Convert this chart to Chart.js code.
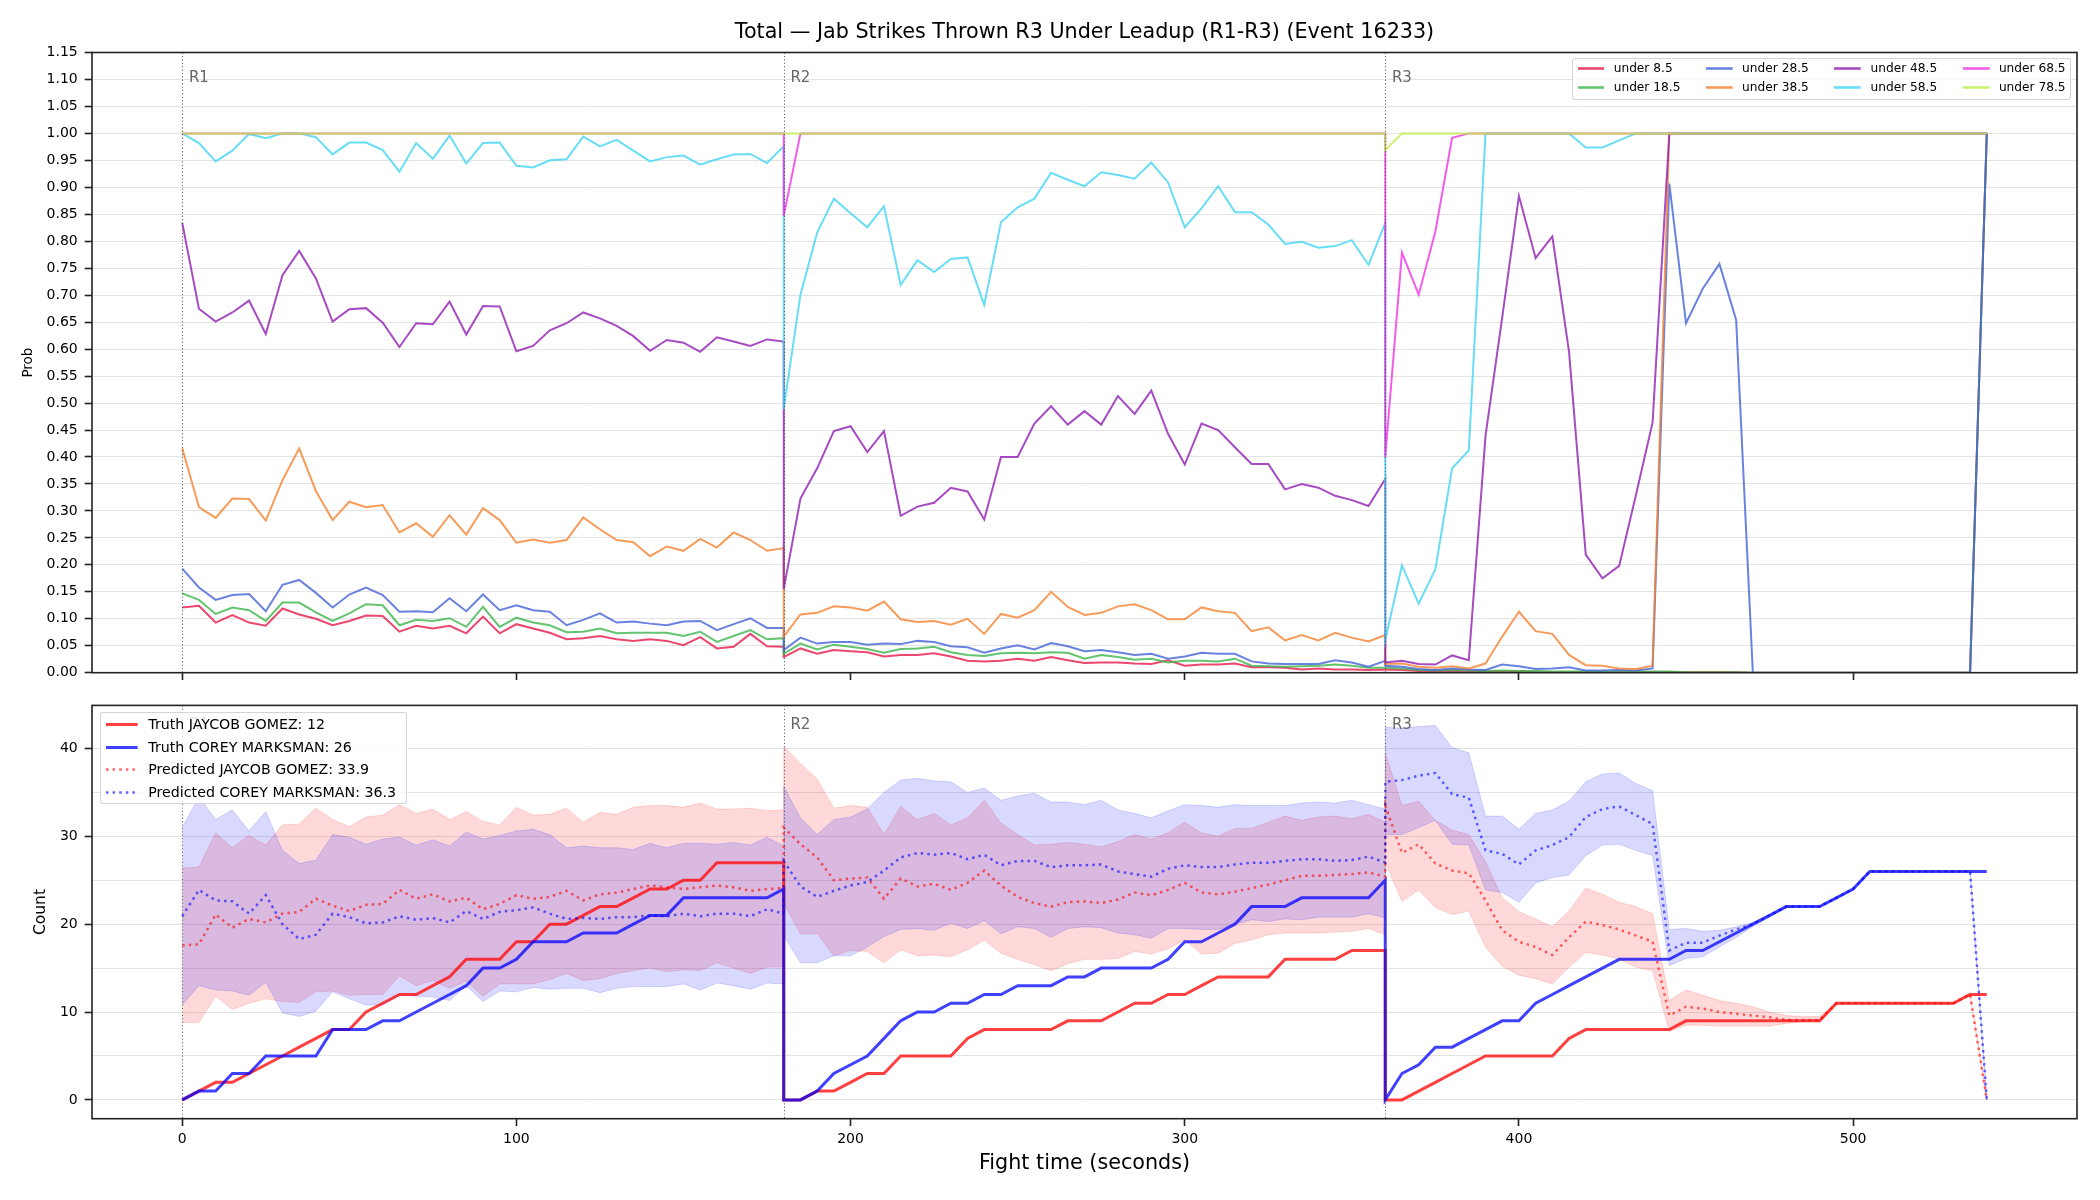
<!DOCTYPE html>
<html><head><meta charset="utf-8">
<script src="https://cdn.jsdelivr.net/npm/chart.js@4.4.1/dist/chart.umd.min.js"></script>
<style>
html,body{margin:0;padding:0;background:#fff;}
#fig{position:relative;width:2100px;height:1200px;overflow:hidden;font-family:'DejaVu Sans','Liberation Sans',sans-serif;background:#fff;}
canvas{position:absolute;left:0;}
#cTop{top:0;}
#cBot{top:690px;}
.title{position:absolute;left:584.5px;width:1000px;top:19px;text-align:center;font-size:20.7px;line-height:24px;color:#000;white-space:nowrap;}
.legend{position:absolute;box-sizing:border-box;border:1px solid rgba(204,204,204,0.85);border-radius:3px;background:rgba(255,255,255,0.8);z-index:5;}
.lg{position:absolute;white-space:nowrap;color:#000;}
.sw{position:absolute;}
</style></head>
<body><div id="fig">
<canvas id="cTop" width="2100" height="700"></canvas>
<canvas id="cBot" width="2100" height="510"></canvas>
<div class="title" id="title"></div>
<div class="legend" id="legTop" style="left:1571.7px;top:57.7px;width:499px;height:42.6px;"></div>
<div class="legend" id="legBot" style="left:100px;top:712.3px;width:306.7px;height:91.7px;"></div>
</div>
<script>
// ---------------- text ----------------
const TITLE = 'Total — Jab Strikes Thrown R3 Under Leadup (R1-R3) (Event 16233)';
const X_LABEL = 'Fight time (seconds)';
const Y_LABEL_TOP = 'Prob';
const Y_LABEL_BOTTOM = 'Count';
const ROUND_NAMES = ['R1', 'R2', 'R3'];

// ---------------- categories / ticks ----------------
const ROUND_STARTS = [0, 180, 360];
const ROUND_SECONDS = [0,5,10,15,20,25,30,35,40,45,50,55,60,65,70,75,80,85,90,95,100,105,110,115,120,125,130,135,140,145,150,155,160,165,170,175,180];
const X_TICKS = [0, 100, 200, 300, 400, 500];
const PROB_TICKS = [0,0.05,0.10,0.15,0.20,0.25,0.30,0.35,0.40,0.45,0.50,0.55,0.60,0.65,0.70,0.75,0.80,0.85,0.90,0.95,1.00,1.05,1.10,1.15];
const COUNT_TICKS = [0,5,10,15,20,25,30,35,40];
const COUNT_LABELED = [0,10,20,30,40];

// ---------------- top panel: P(under line) ----------------
const LINE_NAMES = ['under 8.5','under 18.5','under 28.5','under 38.5','under 48.5','under 58.5','under 68.5','under 78.5'];

const under_8_5 = [
 0.121,0.124,0.093,0.107,0.093,0.087,0.119,0.108,0.100,0.088,0.096,0.106,0.105,0.076,0.087,0.082,0.087,0.073,0.104,0.073,0.090,0.082,0.074,0.062,0.064,0.068,0.062,0.059,0.062,0.059,0.051,0.066,0.045,0.048,0.072,0.049,0.048,
 0.029,0.045,0.035,0.042,0.040,0.038,0.030,0.033,0.033,0.036,0.030,0.022,0.021,0.022,0.026,0.022,0.029,0.023,0.018,0.019,0.019,0.017,0.016,0.023,0.013,0.015,0.015,0.017,0.010,0.010,0.009,0.006,0.008,0.006,0.006,0.005,0.006,
 0.006,0.005,0.003,0.002,0.003,0.002,0.002,0.002,0.002,0.001, 0.001,0.001,0.001,0.001,0.001,0.001,0.001,0.001,0.001,0.001, 0.001,0.001, 0,0,0,0,0,0,0,0,0,0, 0,0,0,0, 1
];
const under_18_5 = [
 0.147,0.135,0.109,0.121,0.116,0.096,0.130,0.130,0.112,0.096,0.110,0.127,0.125,0.088,0.098,0.096,0.101,0.085,0.122,0.085,0.102,0.093,0.088,0.075,0.076,0.082,0.073,0.074,0.074,0.074,0.068,0.076,0.057,0.068,0.079,0.062,0.064,
 0.035,0.054,0.043,0.052,0.048,0.044,0.037,0.044,0.045,0.048,0.038,0.033,0.031,0.036,0.037,0.036,0.038,0.037,0.026,0.033,0.029,0.024,0.026,0.019,0.022,0.022,0.021,0.026,0.013,0.012,0.011,0.012,0.013,0.015,0.013,0.009,0.009,
 0.009,0.008,0.005,0.004,0.005,0.004,0.003,0.004,0.003,0.003, 0.002,0.002,0.002,0.002,0.002,0.002,0.002,0.002,0.001,0.001, 0.001,0.001, 0,0,0,0,0,0,0,0,0,0, 0,0,0,0, 1
];
const under_28_5 = [
 0.193,0.158,0.135,0.144,0.146,0.114,0.163,0.172,0.148,0.121,0.145,0.158,0.144,0.113,0.114,0.112,0.138,0.114,0.145,0.116,0.125,0.116,0.113,0.088,0.098,0.110,0.093,0.095,0.091,0.088,0.095,0.096,0.079,0.090,0.101,0.083,0.083,
 0.042,0.065,0.054,0.057,0.057,0.052,0.054,0.053,0.059,0.057,0.049,0.047,0.037,0.045,0.051,0.043,0.055,0.049,0.040,0.042,0.038,0.033,0.035,0.026,0.030,0.037,0.035,0.035,0.021,0.017,0.016,0.016,0.016,0.023,0.019,0.011,0.022,
 0.013,0.011,0.007,0.005,0.008,0.006,0.005,0.015,0.012,0.007, 0.008,0.010,0.004,0.004,0.005,0.004,0.008, 0.907,0.648,0.712, 0.758,0.654, 0,0,0,0,0,0,0,0, 0,0,0,0,0,0, 1
];
const under_38_5 = [
 0.416,0.307,0.287,0.323,0.322,0.282,0.357,0.416,0.337,0.283,0.317,0.307,0.311,0.260,0.277,0.252,0.292,0.256,0.305,0.283,0.241,0.247,0.241,0.246,0.288,0.266,0.246,0.242,0.216,0.234,0.226,0.248,0.232,0.260,0.246,0.226,0.231,
 0.067,0.108,0.111,0.123,0.121,0.115,0.132,0.099,0.094,0.096,0.089,0.100,0.072,0.109,0.102,0.116,0.150,0.122,0.107,0.111,0.123,0.127,0.116,0.099,0.099,0.121,0.114,0.111,0.077,0.084,0.060,0.070,0.060,0.074,0.065,0.058,0.070,
 0.016,0.017,0.011,0.009,0.012,0.008,0.017,0.067,0.113,0.077, 0.072,0.033,0.014,0.013,0.008,0.007,0.013, 1,1,1, 1,1,1,1,1,1,1,1,1,1, 1,1,1,1,1,1,1
];
const under_48_5 = [
 0.834,0.675,0.651,0.668,0.690,0.628,0.737,0.782,0.731,0.651,0.674,0.676,0.649,0.604,0.648,0.646,0.688,0.627,0.680,0.679,0.596,0.606,0.635,0.648,0.668,0.657,0.643,0.624,0.597,0.617,0.612,0.595,0.622,0.614,0.606,0.618,0.614,
 0.155,0.323,0.379,0.448,0.457,0.409,0.448,0.291,0.308,0.315,0.343,0.336,0.284,0.400,0.400,0.462,0.494,0.460,0.485,0.460,0.513,0.480,0.523,0.443,0.386,0.462,0.450,0.418,0.387,0.387,0.340,0.350,0.343,0.328,0.320,0.309,0.359,
 0.019,0.022,0.016,0.015,0.032,0.023,0.439,0.659,0.884,0.769, 0.809,0.595,0.219,0.175,0.198,0.329,0.464, 1,1,1, 1,1,1,1,1,1,1,1,1,1, 1,1,1,1,1,1,1
];
const under_58_5 = [
 1.000,0.982,0.948,0.968,0.999,0.991,1.000,1.000,0.993,0.961,0.983,0.983,0.969,0.929,0.982,0.953,0.996,0.944,0.982,0.983,0.940,0.937,0.950,0.952,0.994,0.976,0.988,0.968,0.948,0.956,0.959,0.942,0.952,0.961,0.962,0.945,0.976,
 0.489,0.701,0.816,0.879,0.852,0.826,0.865,0.719,0.765,0.743,0.767,0.770,0.682,0.835,0.863,0.879,0.927,0.914,0.902,0.928,0.923,0.916,0.946,0.909,0.826,0.861,0.902,0.854,0.854,0.831,0.795,0.799,0.788,0.791,0.802,0.756,0.834,
 0.060,0.199,0.128,0.192,0.379,0.412,1,1,1,1, 1,1,0.974,0.974,0.987,1, 1,1,1,1, 1,1,1,1,1,1,1,1,1,1, 1,1,1,1,1,1,1
];
const under_68_5 = [
 1,1,1,1,1,1,1,1,1,1, 1,1,1,1,1,1,1,1,1,1, 1,1,1,1,1,1,1,1,1,1, 1,1,1,1,1,1,1,
 0.847,1,1,1,1,1,1,1,1,1, 1,1,1,1,1,1,1,1,1,1, 1,1,1,1,1,1,1,1,1,1, 1,1,1,1,1,1,1,
 0.400,0.779,0.701,0.818,0.992,1,1,1,1,1, 1,1,1,1,1,1,1,1,1,1, 1,1,1,1,1,1,1,1,1,1, 1,1,1,1,1,1,1
];
const under_78_5 = [
 1,1,1,1,1,1,1,1,1,1, 1,1,1,1,1,1,1,1,1,1, 1,1,1,1,1,1,1,1,1,1, 1,1,1,1,1,1,1,
 1,1,1,1,1,1,1,1,1,1, 1,1,1,1,1,1,1,1,1,1, 1,1,1,1,1,1,1,1,1,1, 1,1,1,1,1,1,1,
 0.969,1,1,1,1,1,1,1,1,1, 1,1,1,1,1,1,1,1,1,1, 1,1,1,1,1,1,1,1,1,1, 1,1,1,1,1,1,1
];
const LINE_VALUES = [under_8_5, under_18_5, under_28_5, under_38_5, under_48_5, under_58_5, under_68_5, under_78_5];
const LINE_COLORS = ['#e6194b','#3cb44b','#4363d8','#f58231','#911eb4','#42d4f4','#f032e6','#bfef45'];

// ---------------- bottom panel: counts ----------------
const FIGHTER_NAMES = ['JAYCOB GOMEZ', 'COREY MARKSMAN'];
const FINAL_TRUTH = [12, 26];
const FINAL_PRED = [33.9, 36.3];

const truth_gomez = [
 0,1,2,2,3,4,5,6,7,8, 8,10,11,12,12,13,14,16,16,16, 18,18,20,20,21,22,22,23,24,24, 25,25,27,27,27,27,27,
 0,0,1,1,2,3,3,5,5,5, 5,7,8,8,8,8,8,9,9,9, 10,11,11,12,12,13,14,14,14,14, 16,16,16,16,17,17,17,
 0,0,1,2,3,4,5,5,5,5, 5,7,8,8,8,8,8,8,9,9, 9,9,9,9,9,9,9,11,11,11, 11,11,11,11,11,12,12
];
const truth_marksman = [
 0,1,1,3,3,5,5,5,5,8, 8,8,9,9,10,11,12,13,15,15, 16,18,18,18,19,19,19,20,21,21, 23,23,23,23,23,23,24,
 0,0,1,3,4,5,7,9,10,10, 11,11,12,12,13,13,13,14,14,15, 15,15,15,16,18,18,19,20,22,22, 22,23,23,23,23,23,25,
 0,3,4,6,6,7,8,9,9,11, 12,13,14,15,16,16,16,16,17,17, 18,19,20,21,22,22,22,23,24,26, 26,26,26,26,26,26,26
];
const pred_gomez = [
 17.6,17.7,21.1,19.6,20.6,20.2,21.2,21.4,22.9,22.1, 21.5,22.2,22.3,23.9,22.9,23.4,22.6,23.0,21.7,22.3, 23.3,22.9,23.1,23.8,22.7,23.4,23.6,24.0,24.4,24.2, 24.0,24.2,24.4,24.2,23.8,24.0,24.1,
 31.0,29.1,27.6,25.0,25.2,25.3,22.9,25.2,24.3,24.6, 23.9,24.7,26.1,24.4,23.1,22.4,22.0,22.5,22.6,22.4, 22.8,23.6,23.3,23.9,24.7,23.6,23.4,23.7,24.1,24.5, 25.0,25.5,25.5,25.6,25.7,25.9,25.4,
 33.5,28.1,29.1,26.9,26.1,25.8,22.7,19.3,18.0,17.4, 16.5,18.5,20.3,19.9,19.4,18.7,18.0,9.6,10.6,10.4, 10.0,9.8,9.6,9.4,9.1,9.1,9.1,11,11,11, 11,11,11,11,11,12,0
];
const pred_marksman = [
 20.9,23.9,22.7,22.6,21.2,23.3,20.0,18.3,18.8,21.2, 20.8,20.1,20.2,20.9,20.5,20.7,20.2,21.5,20.6,21.4, 21.6,21.9,21.2,20.6,20.7,20.6,20.8,20.8,21.0,20.9, 21.2,20.9,21.2,21.2,20.9,21.7,21.2,
 27.2,24.3,23.1,23.8,24.4,24.8,26.1,27.6,28.1,27.9, 28.1,27.4,27.9,26.7,27.2,27.2,26.5,26.7,26.7,26.8, 26.0,25.7,25.4,26.3,26.7,26.5,26.5,26.8,27.0,27.0, 27.2,27.4,27.4,27.2,27.3,27.7,27.0,
 36.2,36.4,36.9,37.2,34.8,34.4,28.4,28.0,26.8,28.4, 29.0,29.9,32.2,33.1,33.4,32.4,31.4,17.0,17.9,17.9, 18.7,19.4,20.0,21.0,22.0,22.0,22.0,23,24,26, 26,26,26,26,26,26,0
];
const band_gomez_hi = [
 26.4,26.5,30.4,28.7,30.1,29.0,31.3,31.4,33.2,31.9, 31.1,32.2,32.4,33.6,32.6,33.1,31.9,32.8,31.7,31.3, 33.3,32.4,32.5,33.2,31.6,32.7,32.5,33.3,33.5,33.5, 33.3,33.8,33.1,33.1,33.2,32.9,33.0,
 40.2,38.3,36.5,33.2,33.5,33.3,30.2,33.4,31.9,32.6, 31.3,32.1,34.1,31.5,30.2,29.0,29.1,29.3,29.1,28.8, 29.4,30.2,29.7,30.4,31.6,30.4,30.0,30.9,30.9,31.6, 32.3,31.8,32.2,32.3,32.0,32.5,31.6,
 39.5,33.5,34.0,31.8,30.7,30.2,27.1,23.0,21.4,20.6, 19.7,21.5,24.1,23.4,22.5,22.0,21.2,11.3,12.5,11.9, 11.3,11.0,10.6,10.0,9.6,9.5,9.5,11,11,11, 11,11,11,11,11,12,0
];
const band_gomez_lo = [
 8.8,8.8,11.8,10.3,11.0,11.5,11.2,11.1,12.3,12.4, 11.9,12.0,12.0,14.1,13.0,13.6,12.7,13.5,11.8,13.2, 13.2,13.2,13.7,14.4,13.6,13.8,14.4,14.7,15.0,14.6, 14.8,14.7,15.6,15.0,14.4,15.1,15.2,
 22.3,18.9,18.9,16.4,17.0,16.9,15.6,17.1,16.4,16.5, 16.3,17.1,18.2,16.7,16.0,15.4,14.7,15.5,16.0,16.0, 16.1,16.9,16.6,17.2,18.2,16.6,16.7,17.8,18.2,18.8, 19.0,19.0,19.0,19.1,19.2,19.5,18.8,
 27.0,22.6,23.9,21.9,21.1,21.5,17.4,15.2,14.2,13.8, 13.2,15.1,16.8,16.5,16.0,15.1,14.7,7.8,8.5,8.5, 8.4,8.4,8.4,8.4,8.7,8.9,8.9,11,11,11, 11,11,11,11,11,12,0
];
const band_marksman_hi = [
 31.0,34.5,31.9,33.0,30.6,32.8,28.4,26.9,27.3,30.2, 29.9,29.1,29.7,29.9,29.0,29.6,28.9,30.5,29.7,30.1, 30.6,30.8,30.2,28.7,28.9,28.7,28.7,28.5,29.2,28.7, 29.2,29.2,29.1,29.3,29.0,29.9,28.9,
 35.7,32.1,30.2,31.9,32.2,33.1,35.0,36.4,36.6,36.3, 36.2,35.0,35.5,34.1,34.6,34.9,33.9,33.9,33.6,34.1, 33.0,32.6,32.1,32.9,33.6,33.5,33.3,33.6,33.5,33.5, 33.5,33.8,33.9,33.8,34.1,33.6,33.1,
 42.4,42.3,42.5,42.6,40.1,39.5,32.3,32.3,30.8,32.6, 33.0,34.0,36.2,37.1,37.2,36.0,35.2,19.4,19.5,19.2, 19.3,19.7,20.2,21.0,22.0,22,22,23,24,26, 26,26,26,26,26,26,0
];
const band_marksman_lo = [
 10.8,13.0,12.5,12.4,11.9,13.4,9.9,9.5,10.1,12.3, 11.5,10.8,10.8,11.9,11.8,11.7,11.3,13.0,11.2,12.4, 12.3,12.8,12.6,12.7,12.7,12.2,12.7,12.9,12.9,12.9, 13.2,12.5,13.3,13.0,12.6,13.3,13.2,
 18.7,15.6,15.6,16.4,16.4,17.4,18.6,19.4,19.5,19.3, 20.1,19.5,20.4,18.9,19.7,19.5,18.5,19.5,19.7,19.6, 19.0,18.8,18.4,19.5,19.5,19.4,19.4,20.0,20.5,20.3, 20.6,20.5,20.8,20.8,20.8,21.2,20.7,
 30.2,30.2,31.0,31.8,29.1,29.0,23.9,23.6,22.5,24.7, 25.3,25.6,27.8,29.0,29.1,28.4,27.8,15.3,16.1,16.3, 17.4,18.5,19.7,20.8,21.9,22,22,23,24,26, 26,26,26,26,26,26,0
];

// ---------------- build ----------------
const FIGHT_TIME = ROUND_STARTS.flatMap(s => ROUND_SECONDS.map(t => s + t));
[...LINE_VALUES, truth_gomez, truth_marksman, pred_gomez, pred_marksman, band_gomez_hi, band_gomez_lo, band_marksman_hi, band_marksman_lo]
  .forEach((a, i) => { if (a.length !== FIGHT_TIME.length) throw new Error('length mismatch in array #' + i + ': ' + a.length); });

const FONT = "'DejaVu Sans', 'Liberation Sans', sans-serif";
Chart.defaults.font.family = FONT;
Chart.defaults.color = '#000';

const X_MIN = -27, X_MAX = 567;
const PROB_MIN = 0, PROB_MAX = 1.15;
const COUNT_MIN = -2.14, COUNT_MAX = 44.9;

function rgba(hex, a) {
  const n = parseInt(hex.slice(1), 16);
  return `rgba(${(n >> 16) & 255},${(n >> 8) & 255},${n & 255},${a})`;
}
const xy = vals => FIGHT_TIME.map((t, i) => ({x: t, y: vals[i]}));

const RED = '#ff0000', BLUE = '#0000ff';
const TRUTH_ALPHA = 0.75, PRED_ALPHA = 0.6, BAND_ALPHA = 0.15, LINE_ALPHA = 0.8;
const DOT = [2.5, 4.1];

const framePlugin = {
  id: 'frameRounds',
  afterDatasetsDraw(chart, args, opts) {
    const {ctx, chartArea: a, scales: {x, y}} = chart;
    ctx.save();
    ctx.beginPath(); ctx.rect(a.left, a.top, a.width, a.height); ctx.clip();
    ctx.strokeStyle = 'rgba(70,70,70,0.8)'; ctx.lineWidth = 1.1; ctx.setLineDash([1.2, 2.2]);
    ROUND_STARTS.forEach(t => {
      const px = Math.round(x.getPixelForValue(t)) + 0.5;
      ctx.beginPath(); ctx.moveTo(px, a.top); ctx.lineTo(px, a.bottom); ctx.stroke();
    });
    ctx.setLineDash([]);
    ctx.fillStyle = '#666'; ctx.font = `15px ${FONT}`; ctx.textAlign = 'left'; ctx.textBaseline = 'middle';
    ROUND_STARTS.forEach((t, i) => ctx.fillText(ROUND_NAMES[i], x.getPixelForValue(t + 2), y.getPixelForValue(opts.labelY)));
    ctx.restore();
  },
  afterDraw(chart) {
    const {ctx, chartArea: a} = chart;
    ctx.save(); ctx.strokeStyle = '#222'; ctx.lineWidth = 1.6;
    ctx.strokeRect(a.left, a.top, a.width, a.height); ctx.restore();
  }
};

function xScale(showLabels, axisHeight) {
  return {
    type: 'linear', min: X_MIN, max: X_MAX,
    afterBuildTicks: s => { s.ticks = X_TICKS.map(v => ({value: v})); },
    ticks: {display: showLabels, font: {size: 14}, color: '#000', padding: 4.6, maxRotation: 0, autoSkip: false},
    grid: {display: true, drawOnChartArea: false, drawTicks: true, tickLength: 7.3, tickColor: '#222', tickWidth: 1.6},
    border: {display: false},
    title: showLabels ? {display: true, text: X_LABEL, font: {size: 20.7}, color: '#000', padding: {top: 0, bottom: 23.6}} : {display: false},
    afterFit: s => { s.height = axisHeight; }
  };
}

// top chart
new Chart(document.getElementById('cTop'), {
  type: 'line',
  data: {
    datasets: LINE_NAMES.map((name, i) => ({
      label: name, data: xy(LINE_VALUES[i]),
      borderColor: rgba(LINE_COLORS[i], LINE_ALPHA), backgroundColor: rgba(LINE_COLORS[i], LINE_ALPHA),
      borderWidth: 2, pointRadius: 0, fill: false, tension: 0, order: LINE_NAMES.length - 1 - i
    }))
  },
  options: {
    responsive: false, animation: false, devicePixelRatio: 1,
    layout: {padding: {top: 52.5, right: 23, bottom: 0, left: 0}},
    plugins: {legend: {display: false}, tooltip: {enabled: false}, frameRounds: {labelY: 1.102}},
    scales: {
      x: xScale(false, 27.3),
      y: {
        type: 'linear', min: PROB_MIN, max: PROB_MAX,
        afterBuildTicks: s => { s.ticks = PROB_TICKS.map(v => ({value: v})); },
        ticks: {font: {size: 14}, color: '#000', padding: 7, autoSkip: false, callback: v => Number(v).toFixed(2)},
        grid: {color: '#e3e3e3', lineWidth: 1, tickLength: 7.3, tickColor: '#222', tickWidth: 1.6},
        border: {display: false},
        title: {display: true, text: Y_LABEL_TOP, font: {size: 13.5}, color: '#000', padding: {top: 20.5, bottom: 0}},
        afterFit: s => { s.width = 92; }
      }
    }
  },
  plugins: [framePlugin]
});

// bottom chart
const bottomSets = [
  {label: `Truth ${FIGHTER_NAMES[0]}: ${FINAL_TRUTH[0]}`, data: xy(truth_gomez), borderColor: rgba(RED, TRUTH_ALPHA), borderWidth: 3, order: 3},
  {label: `Truth ${FIGHTER_NAMES[1]}: ${FINAL_TRUTH[1]}`, data: xy(truth_marksman), borderColor: rgba(BLUE, TRUTH_ALPHA), borderWidth: 3, order: 2},
  {label: `Predicted ${FIGHTER_NAMES[0]}: ${FINAL_PRED[0]}`, data: xy(pred_gomez), borderColor: rgba(RED, PRED_ALPHA), borderWidth: 2.5, borderDash: DOT, order: 1},
  {label: `Predicted ${FIGHTER_NAMES[1]}: ${FINAL_PRED[1]}`, data: xy(pred_marksman), borderColor: rgba(BLUE, PRED_ALPHA), borderWidth: 2.5, borderDash: DOT, order: 0},
  {label: 'band1hi', data: xy(band_gomez_hi), borderColor: rgba(RED, BAND_ALPHA), backgroundColor: rgba(RED, BAND_ALPHA), borderWidth: 1, fill: '+1', order: 5},
  {label: 'band1lo', data: xy(band_gomez_lo), borderColor: rgba(RED, BAND_ALPHA), borderWidth: 1, fill: false, order: 5},
  {label: 'band2hi', data: xy(band_marksman_hi), borderColor: rgba(BLUE, BAND_ALPHA), backgroundColor: rgba(BLUE, BAND_ALPHA), borderWidth: 1, fill: '+1', order: 4},
  {label: 'band2lo', data: xy(band_marksman_lo), borderColor: rgba(BLUE, BAND_ALPHA), borderWidth: 1, fill: false, order: 4}
].map(d => Object.assign({pointRadius: 0, tension: 0, fill: false}, d));

new Chart(document.getElementById('cBot'), {
  type: 'line',
  data: {datasets: bottomSets},
  options: {
    responsive: false, animation: false, devicePixelRatio: 1,
    layout: {padding: {top: 14, right: 23, bottom: 0, left: 0}},
    plugins: {legend: {display: false}, tooltip: {enabled: false}, frameRounds: {labelY: 42.7}},
    scales: {
      x: xScale(true, 81.3),
      y: {
        type: 'linear', min: COUNT_MIN, max: COUNT_MAX,
        afterBuildTicks: s => { s.ticks = COUNT_TICKS.map(v => ({value: v})); },
        ticks: {font: {size: 14}, color: '#000', padding: 7, autoSkip: false, callback: v => COUNT_LABELED.includes(v) ? String(v) : ''},
        grid: {color: '#e3e3e3', lineWidth: 1, tickLength: 7.3, tickWidth: 1.6,
               tickColor: c => (c.tick && COUNT_LABELED.includes(c.tick.value)) ? '#222' : 'rgba(0,0,0,0)'},
        border: {display: false},
        title: {display: true, text: Y_LABEL_BOTTOM, font: {size: 15.5}, color: '#000', padding: {top: 31.7, bottom: 0}},
        afterFit: s => { s.width = 92; }
      }
    }
  },
  plugins: [framePlugin]
});

// ---------------- title & legends (HTML text) ----------------
document.getElementById('title').textContent = TITLE;

function swatchSVG(color, len, lw, dash) {
  const h = Math.ceil(lw + 4);
  return `<svg width="${len}" height="${h}" style="display:block"><line x1="0" y1="${h/2}" x2="${len}" y2="${h/2}" stroke="${color}" stroke-width="${lw}"${dash ? ` stroke-dasharray="${dash.join(' ')}"` : ''}/></svg>`;
}
function addItem(box, color, lw, dash, text, swLeft, swLen, txtLeft, cy, fontSize) {
  const h = Math.ceil(lw + 4);
  const sw = document.createElement('div');
  sw.className = 'sw'; sw.style.left = swLeft + 'px'; sw.style.top = (cy - h / 2) + 'px';
  sw.innerHTML = swatchSVG(color, swLen, lw, dash);
  box.appendChild(sw);
  const t = document.createElement('div');
  t.className = 'lg'; t.style.left = txtLeft + 'px'; t.style.fontSize = fontSize + 'px';
  const lh = Math.round(fontSize * 1.2);
  t.style.lineHeight = lh + 'px'; t.style.top = (cy - lh / 2) + 'px';
  t.textContent = text;
  box.appendChild(t);
}
const legTop = document.getElementById('legTop');
LINE_NAMES.forEach((name, i) => {
  const col = Math.floor(i / 2), row = i % 2;
  addItem(legTop, rgba(LINE_COLORS[i], LINE_ALPHA), 2.6, null, name, 5 + col * 128.4, 26.7, 41 + col * 128.4, 10.3 + row * 19, 12.2);
});
const legBot = document.getElementById('legBot');
bottomSets.slice(0, 4).forEach((d, i) => {
  addItem(legBot, d.borderColor, d.borderWidth, d.borderDash || null, d.label, 5, 31.7, 47.3, 11.7 + i * 22.4, 14.2);
});
</script>
</body></html>
